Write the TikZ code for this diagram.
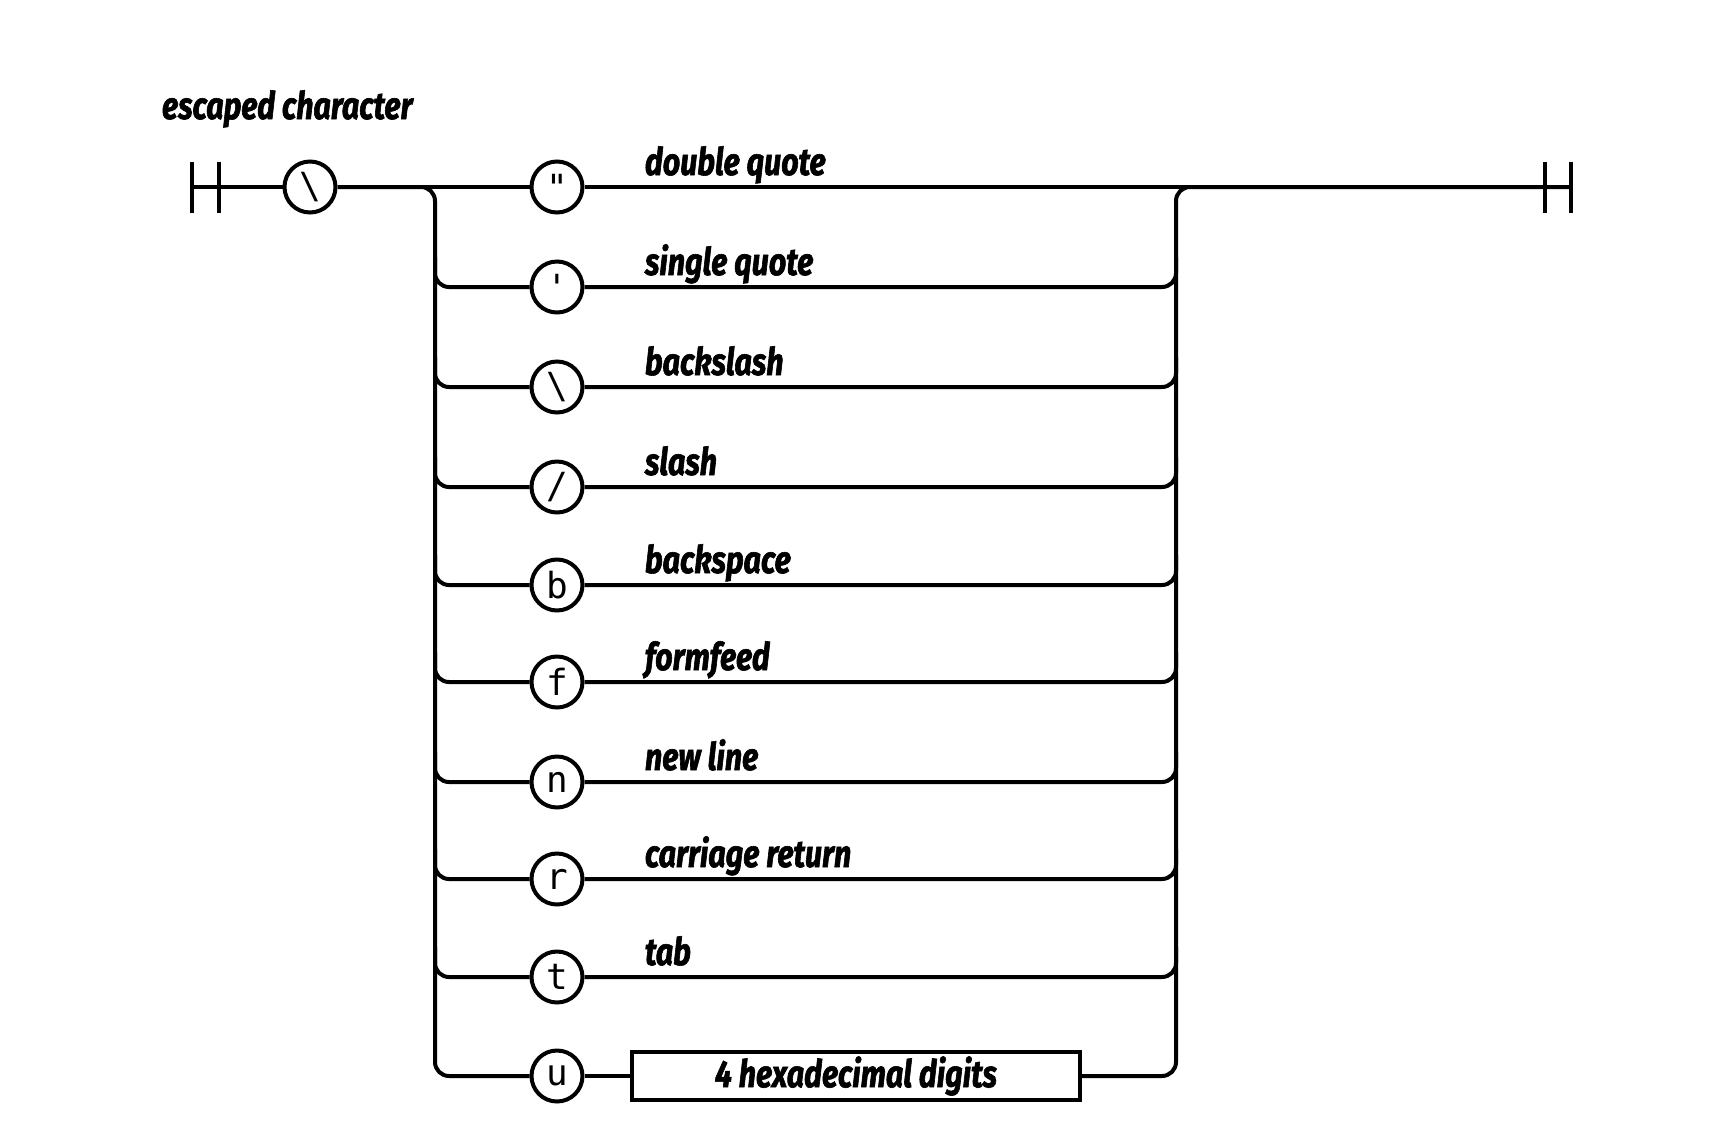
\documentclass[tikz,border=0pt]{standalone}
\usepackage{fontspec}
\usetikzlibrary{calc}
\newfontfamily\namefont[FakeStretch=0.8,BoldItalicFeatures={FakeBold=1.6}]{Fira Sans}
\newfontfamily\charfont{DejaVu Sans Mono}

\tikzset{
  term/.style={circle, draw, minimum size=25.5pt, inner sep=0pt,
    font=\charfont\fontsize{18}{18}\selectfont},
  rulename/.style={anchor=base west, inner sep=0pt,
    font=\namefont\bfseries\itshape\fontsize{19}{19}\selectfont},
  rulebox/.style={draw, minimum width=224pt, minimum height=24pt, inner sep=0pt,
    font=\namefont\bfseries\itshape\fontsize{19}{19}\selectfont},
  track/.style={rounded corners=7pt},
}

\begin{document}
\begin{tikzpicture}
  [x=0.5pt,y=-0.5pt,line width=2pt,line cap=butt]
  \useasboundingbox (0,0) rectangle (1726,1142);

  \node[rulename] (title) at (160,119) {escaped character};

  % start and end bars
  \draw (192,162) -- (192,213) (219,162) -- (219,213);
  \draw (1545,162) -- (1545,213) (1571,162) -- (1571,213);
  \coordinate (begin) at (192,187);
  \coordinate (stop) at (1571,187);
  \coordinate (split) at (435,187);
  \coordinate (join) at (1176,187);

  \node[term] (esc) at (310,187) {\textbackslash};

  \node[term] (dq) at (557,187) {"};
  \node[term] (sq) at (557,287) {'};
  \node[term] (bs) at (557,387) {\textbackslash};
  \node[term] (sl) at (557,487) {/};
  \node[term] (b)  at (557,585) {b};
  \node[term] (f)  at (557,682) {f};
  \node[term] (n)  at (557,782) {n};
  \node[term] (r)  at (557,879) {r};
  \node[term] (t)  at (557,977) {t};
  \node[term] (u)  at (557,1076) {u};
  \node[rulebox] (hex) at (856,1076) {4 hexadecimal digits};

  \node[rulename] at (643,175) {double quote};
  \node[rulename] at (643,275) {single quote};
  \node[rulename] at (643,375) {backslash};
  \node[rulename] at (643,475) {slash};
  \node[rulename] at (643,573) {backspace};
  \node[rulename] at (643,670) {formfeed};
  \node[rulename] at (643,770) {new line};
  \node[rulename] at (643,867) {carriage return};
  \node[rulename] at (643,965) {tab};

  \draw (begin) -- (esc) (esc) -- (dq) (dq) -- (stop);
  \draw[track] (esc.east) -- (split) |- (u.west);
  \draw (u) -- (hex);
  \draw[track] (hex.east) -| (join) -- (stop);

  \foreach \row in {sq,bs,sl,b,f,n,r,t}{
    \draw[track] ($(split |- \row)+(0,-30)$) |- (\row.west);
    \draw[track] (\row.east) -| ($(join |- \row)+(0,-30)$);
  }
\end{tikzpicture}
\end{document}
